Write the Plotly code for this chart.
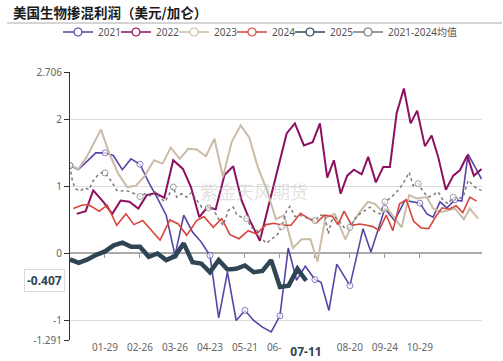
import plotly.graph_objects as go

# ---------------- data ----------------
# x values are positions on the (weekly) category axis, 0 = first category
tick_pos = [4, 8, 12, 16, 20, 24, 32, 36, 40]
tick_lab = ["01-29", "02-26", "03-26", "04-23", "05-21", "06-18", "08-20", "09-24", "10-29"]
axis_ticks = [4, 8, 12, 16, 20, 24, 28, 32, 36, 40]
hover_x = 27
hover_label = "07-11"
hover_value = -0.407

x2021 = [0, 0.95, 2, 2.94, 4, 4.95, 5.98, 6.97, 8, 9, 10, 11, 12, 13, 14, 15, 16, 17, 18, 19, 20, 21, 22, 23, 24,
         24.95, 25.9, 26.9, 28, 28.7, 29.6, 30.5, 32, 33.5, 34.4, 36, 37.1, 38.3, 40, 40.8, 41.5, 42.3, 43.1, 44,
         44.8, 45.5, 46.3, 47.05]
y2021 = [1.31, 1.25, 1.38, 1.50, 1.50, 1.46, 1.25, 1.41, 1.33, 1.06, 0.82, 0.57, -0.03, 0.57, 0.32, 0.17, -0.03,
         -0.96, -0.28, -1.0, -0.85, -1.0, -1.10, -1.17, -0.93, 0.08, -0.40, -0.19, -0.39, -0.43, -0.85, -0.16,
         -0.48, 0.37, 0.02, 0.67, 0.49, 0.79, 0.75, 0.59, 0.54, 0.77, 0.68, 0.80, 0.78, 1.48, 1.29, 1.11]

x2022 = [0.77, 1.79, 2.66, 3.81, 4.83, 5.79, 6.78, 7.81, 8.77, 9.75, 10.78, 11.8, 12.91, 13.83, 14.78, 15.71,
         16.66, 17.66, 18.66, 19.62, 20.57, 21.71, 22.7, 23.8, 24.77, 25.71, 26.74, 27.74, 28.57, 29.41, 30.17,
         30.94, 31.69, 32.46, 33.34, 34.09, 34.97, 35.81, 36.57, 37.34, 38.17, 38.94, 39.69, 40.57, 41.34, 42.09,
         42.97, 43.81, 44.57, 45.41, 46.17, 47.05]
y2022 = [0.59, 0.63, 0.94, 0.77, 0.59, 0.79, 0.77, 0.67, 0.87, 0.90, 0.83, 1.39, 1.26, 0.99, 0.54, 0.69, 0.66,
         1.17, 1.30, 0.79, 0.49, 0.19, 0.71, 1.28, 1.79, 1.94, 1.61, 1.66, 1.94, 1.13, 1.39, 0.89, 1.16, 1.25,
         1.18, 1.44, 1.06, 1.29, 1.29, 2.09, 2.46, 1.94, 2.13, 1.60, 1.76, 1.44, 0.95, 1.16, 1.24, 1.46, 1.16, 1.26]

x2023 = [0.08, 0.95, 1.91, 2.66, 3.54, 4.49, 5.52, 6.55, 7.54, 8.57, 9.6, 10.59, 11.51, 12.54, 13.52, 14.48,
         15.54, 16.51, 17.49, 18.48, 19.51, 20.49, 21.49, 22.48, 23.54, 24.46, 25.49, 26.48, 27.49, 28.29, 29.2,
         30.25, 31.49, 32.38, 33.14, 34.06, 34.86, 35.71, 36.34, 37.14, 37.91, 38.78, 39.62, 40.77, 41.52, 42.48,
         43.23, 44.0, 45.03, 45.71, 46.66]
y2023 = [1.31, 1.26, 1.44, 1.64, 1.85, 1.49, 1.19, 0.99, 1.01, 1.16, 1.39, 1.34, 1.58, 1.41, 1.56, 1.55, 1.45,
         1.71, 1.14, 1.66, 1.91, 1.73, 1.28, 0.96, 0.51, 0.57, 0.08, 0.21, 0.21, -0.12, 0.53, 0.59, 0.21, 0.47,
         0.62, 0.77, 0.74, 0.62, 0.66, 0.52, 0.39, 0.87, 0.82, 0.84, 0.67, 0.62, 0.64, 0.67, 0.51, 0.67, 0.52]

x2024 = [0.38, 1.34, 2.09, 3.35, 4.26, 5.34, 6.4, 7.31, 8.31, 9.34, 10.29, 11.43, 12.38, 13.34, 14.48, 15.31,
         16.38, 17.34, 18.29, 19.31, 20.38, 21.34, 22.4, 23.31, 24.34, 25.26, 26.34, 27.31, 28.19, 29.09, 30.0,
         30.63, 31.34, 32.19, 33.14, 33.94, 34.63, 35.31, 36.16, 36.91, 37.68, 38.45, 39.28, 40.14, 41.01, 41.81,
         42.54, 43.29, 44.15, 44.91, 45.71, 46.48]
y2024 = [0.67, 0.72, 0.73, 0.63, 0.72, 0.42, 0.59, 0.43, 0.49, 0.34, 0.20, 0.50, 0.44, 0.27, 0.49, 0.55, 0.39,
         0.52, 0.28, 0.22, 0.34, 0.29, 0.43, 0.45, 0.42, 0.42, 0.60, 0.52, 0.46, 0.57, 0.55, 0.43, 0.63, 0.42,
         0.44, 0.42, 0.40, 0.34, 0.57, 0.34, 0.74, 0.80, 0.48, 0.38, 0.37, 0.55, 0.68, 0.66, 0.71, 0.61, 0.84, 0.78]

x2025 = list(range(28))
y2025 = [-0.09, -0.14, -0.09, -0.02, 0.03, 0.12, 0.16, 0.10, 0.10, -0.05, 0.00, -0.10, -0.04, 0.15, -0.13,
         -0.15, -0.28, -0.10, -0.24, -0.23, -0.18, -0.28, -0.26, -0.10, -0.50, -0.48, -0.23, -0.407]

xavg = [0, 0.26, 0.57, 1.14, 1.71, 2.17, 2.63, 3.2, 3.66, 4.0, 4.77, 5.34, 5.83, 6.29, 6.86, 7.43, 8.0, 8.57,
        9.14, 9.71, 10.29, 10.86, 11.43, 11.81, 12.19, 12.77, 13.34, 13.91, 14.48, 15.05, 15.81, 16.38, 16.95,
        17.52, 18.09, 18.66, 19.05, 19.62, 20.19, 20.77, 21.34, 21.91, 22.48, 23.05, 23.62, 24.19, 24.77, 25.14,
        25.71, 26.29, 26.86, 27.43, 28.0, 28.57, 29.14, 29.52, 29.91, 30.29, 30.86, 31.43, 32.0, 32.57, 33.14,
        33.71, 34.29, 34.86, 35.43, 36.0, 36.57, 37.14, 37.71, 38.29, 38.78, 39.23, 39.81, 40.38, 40.95, 41.52,
        42.09, 42.66, 43.23, 43.81, 44.38, 44.95, 45.52, 45.91, 46.48, 47.05]
yavg = [1.31, 1.09, 0.97, 0.93, 0.98, 0.95, 1.08, 1.17, 1.21, 1.20, 1.07, 0.94, 0.93, 0.94, 0.92, 0.88, 0.85, 0.89,
        0.86, 0.92, 0.83, 0.77, 0.90, 0.99, 0.84, 0.89, 0.84, 0.91, 0.80, 0.69, 0.68, 0.66, 0.52, 0.42, 0.64, 0.69,
        0.58, 0.54, 0.52, 0.38, 0.35, 0.22, 0.15, 0.22, 0.26, 0.40, 0.64, 0.70, 0.55, 0.57, 0.54, 0.52, 0.49, 0.57,
        0.57, 0.29, 0.49, 0.54, 0.47, 0.37, 0.39, 0.52, 0.59, 0.64, 0.69, 0.62, 0.59, 0.77, 0.82, 0.89, 0.97, 1.09,
        1.21, 1.01, 1.04, 0.92, 0.84, 0.87, 0.92, 0.79, 0.74, 0.84, 0.82, 0.84, 1.09, 1.04, 0.97, 0.94]

y_min, y_max = -1.291, 2.706
y_ticks = [-1.291, -1, 0, 1, 2, 2.706]
y_ticktext = ["-1.291", "-1", "0", "1", "2", "2.706"]

names = ["2021", "2022", "2023", "2024", "2025", "2021-2024均值"]
colors = ["#5645a6", "#8c0f62", "#cbbba9", "#d9453b", "#2f4554", "#7a7a7a"]

FONT = "Noto Sans, Noto Sans CJK SC, sans-serif"


def ring_marks(xs, every=4, tol=0.5):
    """Echarts-style: show hollow symbol only at label-interval categories."""
    show = [False] * len(xs)
    t = 0
    while t <= max(xs) + tol:
        j = min(range(len(xs)), key=lambda k: abs(xs[k] - t))
        if abs(xs[j] - t) < tol:
            show[j] = True
        t += every
    return [6 if s else 0 for s in show], [1 if s else 0 for s in show]


fig = go.Figure()

series = [
    (x2021, y2021, 0, 1.6, "solid", True),
    (x2022, y2022, 1, 2.0, "solid", False),
    (x2023, y2023, 2, 2.0, "solid", False),
    (x2024, y2024, 3, 1.6, "solid", False),
    (x2025, y2025, 4, 4.5, "solid", False),
    (xavg, yavg, 5, 1.5, "dot", True),
]
for xs, ys, ci, w, dash, rings in series:
    if rings:
        sz, lw = ring_marks(xs)
        marker = dict(size=sz, color="white", line=dict(color=colors[ci], width=lw))
        mode = "lines+markers"
    else:
        marker = None
        mode = "lines"
    fig.add_trace(go.Scatter(
        x=xs, y=ys, mode=mode, name=names[ci], showlegend=False,
        line=dict(color=colors[ci], width=w, dash=dash),
        marker=marker, hoverinfo="skip",
    ))

# legend entries (thin icon like echarts)
for ci, nm in enumerate(names):
    fig.add_trace(go.Scatter(
        x=[None], y=[None], mode="lines+markers", name=nm,
        line=dict(color=colors[ci], width=1.5),
        marker=dict(size=8, color="white", line=dict(color=colors[ci], width=1.2)),
        xaxis="x2", legendwidth=(70 if ci == 5 else 13),
    ))

zero_pos = (0 - y_min) / (y_max - y_min)

fig.update_layout(
    width=503, height=361,
    margin=dict(l=70, r=21, t=72, b=21, autoexpand=False),
    paper_bgcolor="white", plot_bgcolor="white",
    font=dict(family=FONT, size=10, color="#666"),
    title=dict(
        text="<b>美国生物掺混利润（美元/加仑）</b>",
        x=13 / 503, xanchor="left", xref="container",
        y=1 - 13 / 361, yanchor="middle", yref="container",
        font=dict(family="Noto Sans CJK SC", size=13.5, color="#1a1a1a"),
    ),
    legend=dict(
        orientation="h", xref="paper", x=-12 / 412, xanchor="left",
        yref="paper", y=1 + 40 / 268, yanchor="middle",
        font=dict(size=10, color="#555"), itemwidth=30,
        bgcolor="rgba(0,0,0,0)", borderwidth=0,
    ),
    xaxis=dict(
        range=[0, 47.1], showgrid=False, zeroline=False, showline=False,
        tickmode="array", tickvals=tick_pos, ticktext=tick_lab,
        ticks="", tickfont=dict(size=10, color="#666"),
    ),
    xaxis2=dict(
        range=[0, 47.1], overlaying="x", anchor="free", position=zero_pos,
        showgrid=False, zeroline=False, showline=True, linecolor="#aaaaaa", linewidth=2,
        tickmode="array", tickvals=axis_ticks, ticks="outside", ticklen=4,
        tickcolor="#999999", tickwidth=1, showticklabels=False, layer="below traces",
    ),
    yaxis=dict(
        range=[y_min, y_max], tickmode="array", tickvals=y_ticks, ticktext=y_ticktext,
        showgrid=True, gridcolor="#dedede", gridwidth=1, zeroline=False,
        showline=True, linecolor="#333", linewidth=1,
        ticks="outside", ticklen=5, tickcolor="#333",
        tickfont=dict(size=10, color="#666"),
    ),
    showlegend=True,
)

# rule under the title
fig.add_shape(type="line", xref="paper", yref="paper",
              x0=-63 / 412, x1=432 / 412, y0=1 + 49 / 268, y1=1 + 49 / 268,
              line=dict(color="#aaaaaa", width=1))

# watermark
fig.add_annotation(text="紫金天风期货", xref="paper", yref="paper", x=0.447, y=0.556,
                   showarrow=False, font=dict(family="Noto Sans CJK SC", size=18, color="rgba(190,190,190,0.45)"))

# axis-pointer labels
fig.add_annotation(text="<b>%s</b>" % hover_label, x=hover_x, xref="x", y=0, yref="paper",
                   yanchor="top", yshift=-1, showarrow=False, bgcolor="white", borderpad=1,
                   width=46, align="center",
                   font=dict(family=FONT, size=12, color="#2f4554"))
fig.add_annotation(text="<b>%s</b>" % hover_value, x=0, xref="paper", y=hover_value, yref="y",
                   xanchor="right", xshift=-5, showarrow=False, bgcolor="white",
                   bordercolor="#dddddd", borderwidth=1, borderpad=2,
                   font=dict(family=FONT, size=12, color="#2f4554"))

fig.write_html("out.html", config={"displayModeBar": False},
               post_script="document.body.style.margin='0';document.body.style.overflow='hidden';")
